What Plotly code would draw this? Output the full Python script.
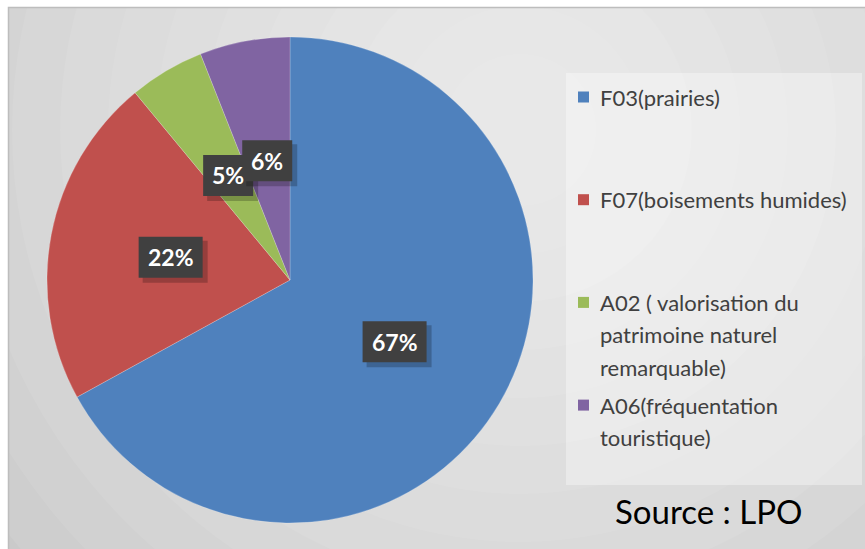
import math
import plotly.graph_objects as go

# ---- data ----
categories = ["F03(prairies)", "F07(boisements humides)",
              "A02 ( valorisation du patrimoine naturel remarquable)",
              "A06(fréquentation touristique)"]
legend_lines = [["F03(prairies)"], ["F07(boisements humides)"],
                ["A02 ( valorisation du", "patrimoine naturel", "remarquable)"],
                ["A06(fréquentation", "touristique)"]]
values = [67, 22, 5, 6]
colors = ["#4F81BD", "#C0504D", "#9BBB59", "#8064A2"]
source_text = "Source : LPO"

W, H = 865, 549
FONT = "Lato"

def px(x):
    return x / W

def py(y):
    return 1 - y / H

# pie geometry (pixels)
CX, CY, R = 290, 280, 243

fig = go.Figure()
fig.add_trace(go.Pie(
    labels=categories, values=values, sort=False, direction="clockwise",
    rotation=0, marker=dict(colors=colors, line=dict(color="rgba(255,255,255,0.35)", width=0.6)),
    textinfo="none", hoverinfo="label+percent", showlegend=False,
    domain=dict(x=[px(CX - R), px(CX + R)], y=[py(CY + R), py(CY - R)]),
))

shapes = []
# chart area base
shapes.append(dict(type="rect", xref="paper", yref="paper", x0=px(8), x1=px(865), y0=py(549), y1=py(7),
                   fillcolor="#c6c6c6", line=dict(width=0), layer="below"))
# radial gradient approximation
GX, GY = 520, 130
for i in range(14):
    r = 700 - i * 48
    shapes.append(dict(type="circle", xref="paper", yref="paper",
                       x0=px(GX - r), x1=px(GX + r), y0=py(GY + r), y1=py(GY - r),
                       fillcolor="rgba(255,255,255,0.075)", line=dict(width=0), layer="below"))
# white outer frame (mask spill outside chart area)
shapes.append(dict(type="rect", xref="paper", yref="paper", x0=0, x1=px(8), y0=0, y1=1,
                   fillcolor="white", line=dict(width=0), layer="below"))
shapes.append(dict(type="rect", xref="paper", yref="paper", x0=0, x1=1, y0=py(7), y1=1,
                   fillcolor="white", line=dict(width=0), layer="below"))
# chart border
shapes.append(dict(type="rect", xref="paper", yref="paper", x0=px(8.5), x1=px(866), y0=py(550), y1=py(7.5),
                   fillcolor="rgba(0,0,0,0)", line=dict(color="#bdbdbd", width=1.5), layer="below"))
# legend box
shapes.append(dict(type="rect", xref="paper", yref="paper", x0=px(566), x1=px(862), y0=py(485), y1=py(73),
                   fillcolor="rgba(255,255,255,0.35)", line=dict(width=0), layer="below"))

annotations = []
# legend entries
LX, LY0, LSTEP, LLINE = 598, 97, 102.7, 32.5
for i, lines in enumerate(legend_lines):
    y0 = LY0 + i * LSTEP
    shapes.append(dict(type="rect", xref="paper", yref="paper",
                       x0=px(578), x1=px(589), y0=py(y0 + 5.5), y1=py(y0 - 5.5),
                       fillcolor=colors[i], line=dict(width=0)))
    for j, t in enumerate(lines):
        annotations.append(dict(text=t, xref="paper", yref="paper", x=px(LX), y=py(y0 + j * LLINE),
                                xanchor="left", yanchor="middle", showarrow=False,
                                font=dict(family=FONT, size=22, color="#404040")))

# data labels at mid-angle, half radius, in dark boxes with a soft shadow
total = sum(values)
cum = 0
BH = 41
for i, v in enumerate(values):
    mid = (cum + v / 2) / total * 2 * math.pi
    cum += v
    lx = CX + 0.5 * R * math.sin(mid)
    ly = CY - 0.5 * R * math.cos(mid)
    label = f"{round(v / total * 100)}%"
    bw = 22 + 14 * len(label)
    shapes.append(dict(type="rect", xref="paper", yref="paper",
                       x0=px(lx - bw / 2 + 4), x1=px(lx + bw / 2 + 5),
                       y0=py(ly + BH / 2 + 5), y1=py(ly - BH / 2 + 4),
                       fillcolor="rgba(0,0,0,0.22)", line=dict(width=0)))
    shapes.append(dict(type="rect", xref="paper", yref="paper",
                       x0=px(lx - bw / 2), x1=px(lx + bw / 2),
                       y0=py(ly + BH / 2), y1=py(ly - BH / 2),
                       fillcolor="#404040", line=dict(width=0)))
    annotations.append(dict(text=f"<b>{label}</b>", xref="paper", yref="paper", x=px(lx), y=py(ly),
                            xanchor="center", yanchor="middle", showarrow=False,
                            font=dict(family=FONT, size=23, color="white")))

annotations.append(dict(text=source_text, xref="paper", yref="paper", x=px(708), y=py(511),
                        xanchor="center", yanchor="middle", showarrow=False,
                        font=dict(family=FONT, size=33, color="black")))

fig.update_layout(width=W, height=H, margin=dict(l=0, r=0, t=0, b=0),
                  paper_bgcolor="white", plot_bgcolor="white",
                  shapes=shapes, annotations=annotations)
fig.write_html("out.html", config={"displayModeBar": False},
               post_script="document.body.style.margin='0px';")
